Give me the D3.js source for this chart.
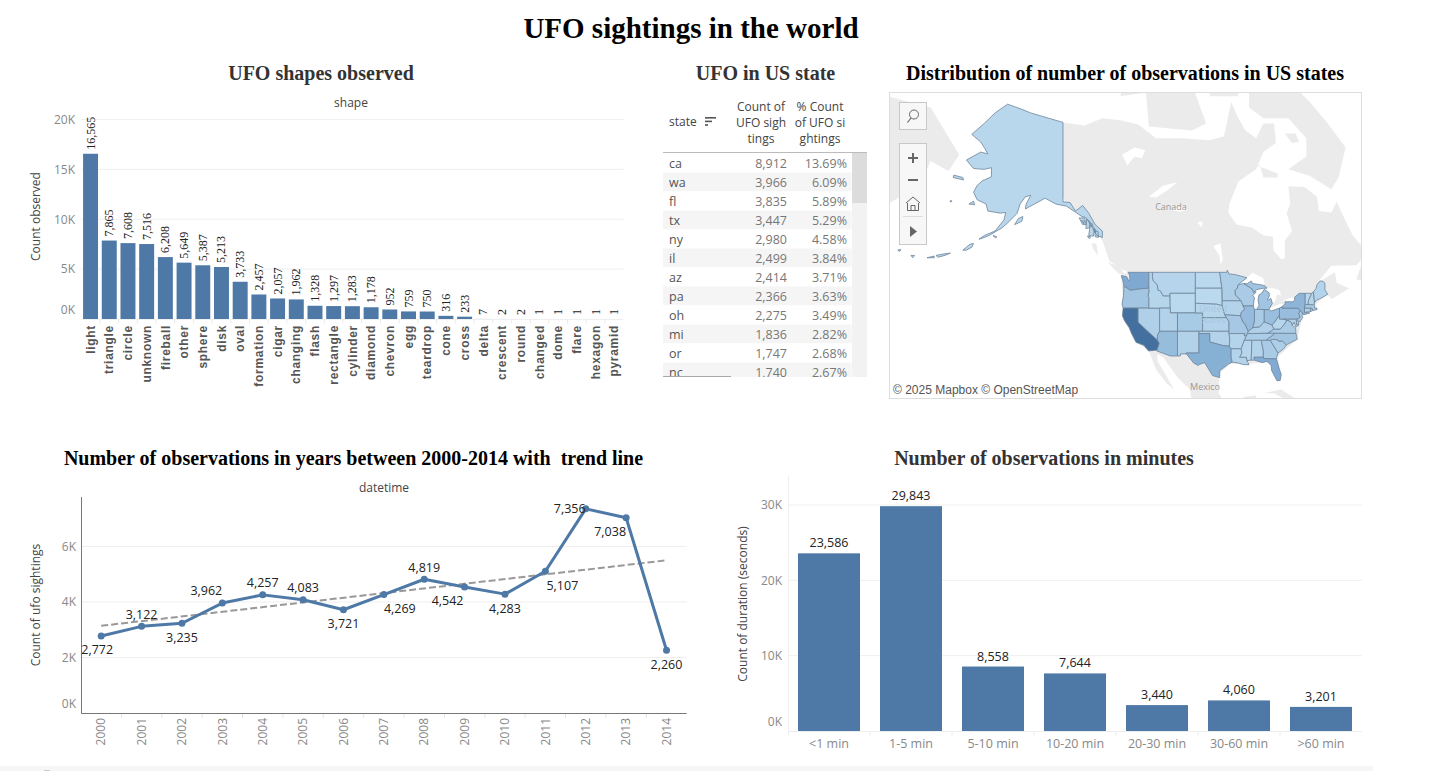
<!DOCTYPE html>
<html>
<head>
<meta charset="utf-8">
<title>UFO sightings in the world</title>
<script src="https://cdn.jsdelivr.net/npm/d3@7"></script>
<style>
  html, body { margin: 0; padding: 0; background: #fff; overflow: hidden; }
  svg { display: block; }
  text { font-family: "Open Sans", sans-serif; }
  .title { font-family: "Liberation Serif", serif; font-weight: bold; text-anchor: middle; white-space: pre; }
  .tick-label { font-size: 12px; fill: #888; }
  .axis-title { font-size: 12px; fill: #444; text-anchor: middle; }
  .mark-label { font-size: 12.5px; fill: #222; text-anchor: middle; }
  .domain { display: none; }
</style>
</head>
<body>
<svg id="board" width="1451" height="771"></svg>
<script>
// ---- data ----
var shapeNames = ['light','triangle','circle','unknown','fireball','other','sphere','disk','oval','formation','cigar','changing','flash','rectangle','cylinder','diamond','chevron','egg','teardrop','cone','cross','delta','crescent','round','changed','dome','flare','hexagon','pyramid'];
var shapeCounts = [16565,7865,7608,7516,6208,5649,5387,5213,3733,2457,2057,1962,1328,1297,1283,1178,952,759,750,316,233,7,2,2,1,1,1,1,1];
var shapeTicks = [0,5000,10000,15000,20000];

var years = [2000,2001,2002,2003,2004,2005,2006,2007,2008,2009,2010,2011,2012,2013,2014];
var yearCounts = [2772,3122,3235,3962,4257,4083,3721,4269,4819,4542,4283,5107,7356,7038,2260];
var yearTicks = [0,2000,4000,6000];
// where each label sits around its point, same order as years
var yearLabelDx = [-4,0,0,-16,0,0,0,16,0,-17,0,17,-16,-16,0];
var yearLabelDy = [14,-12,14,-12,-12,-12,14,14,-12,14,14,14,0,14,14];

var durationBins = ['<1 min','1-5 min','5-10 min','10-20 min','20-30 min','30-60 min','>60 min'];
var durationCounts = [23586,29843,8558,7644,3440,4060,3201];
var durationTicks = [0,10000,20000,30000];

var tableStates = ['ca','wa','fl','tx','ny','il','az','pa','oh','mi','or','nc'];
var tableCounts = [8912,3966,3835,3447,2980,2499,2414,2366,2275,1836,1747,1740];
var tablePercents = ['13.69%','6.09%','5.89%','5.29%','4.58%','3.84%','3.71%','3.63%','3.49%','2.82%','2.68%','2.67%'];

// states not in the visible rows of the table: estimated from their shade
var otherStates = ['mo','co','in','nj','va','ma','wi','ga','tn','mn','sc','ct','ky','nv','md','ut','nm','ok','ia','ks','al','ar','me','la','id','nh','mt','vt','wv','ne','ms','ak','ri','sd','wy','de','nd'];
var otherCounts = [1483,1385,1288,1255,1248,1238,1232,1235,1091,1015,1003,865,845,850,757,700,699,668,640,614,629,578,565,546,503,465,450,260,433,371,375,311,224,174,169,165,121];

// outlines as [lon, lat] rings
var stateShapes = {
  wa: [[[-124.7,48.4],[-123.2,48.2],[-122.6,47.4],[-122.3,47.6],[-122.4,48.5],[-122.8,49],[-117,49],[-117,46],[-119,45.9],[-121.2,45.7],[-122.3,45.6],[-123.4,46.2],[-124,46.3],[-124.1,47]]],
  or: [[[-124,46.3],[-123.4,46.2],[-122.3,45.6],[-121.2,45.7],[-119,45.9],[-117,46],[-116.9,45.6],[-117.2,44.4],[-117,44.2],[-117,42],[-124.2,42],[-124.5,42.8],[-124.1,44.5]]],
  ca: [[[-124.2,42],[-120,42],[-120,39],[-114.6,35],[-114.1,34.3],[-114.7,32.7],[-117.1,32.5],[-118.4,33.8],[-120.6,34.5],[-121.9,36.6],[-122.5,37.8],[-123.8,39.3],[-124.4,40.4]]],
  nv: [[[-120,42],[-114,42],[-114,37],[-114.6,36.1],[-114.6,35],[-120,39]]],
  id: [[[-117,49],[-116,49],[-116,48],[-115.7,47.4],[-114.7,46.7],[-114.4,45.6],[-113.8,45.5],[-113,44.5],[-111.1,44.5],[-111,42],[-117,42],[-117,44.2],[-117.2,44.4],[-116.9,45.6],[-117,46]]],
  mt: [[[-116,49],[-104,49],[-104,45],[-111.1,45],[-111.1,44.5],[-113,44.5],[-113.8,45.5],[-114.4,45.6],[-114.7,46.7],[-115.7,47.4],[-116,48]]],
  wy: [[[-111.1,45],[-104,45],[-104,41],[-111,41]]],
  ut: [[[-114,42],[-111,42],[-111,41],[-109,41],[-109,37],[-114,37]]],
  co: [[[-109,41],[-102,41],[-102,37],[-109,37]]],
  az: [[[-114.6,35],[-114.6,36.1],[-114,37],[-109,37],[-109,31.3],[-111,31.3],[-114.8,32.5],[-114.7,32.7],[-114.1,34.3]]],
  nm: [[[-109,37],[-103,37],[-103,32],[-106.6,32],[-106.5,31.8],[-108.2,31.8],[-108.2,31.3],[-109,31.3]]],
  nd: [[[-104,49],[-97.2,49],[-96.6,46],[-104,46]]],
  sd: [[[-104,46],[-96.6,46],[-96.5,42.5],[-98,42.8],[-104,43]]],
  ne: [[[-104,43],[-98,42.8],[-96.5,42.5],[-95.8,40.6],[-95.3,40],[-102,40],[-102,41],[-104,41]]],
  ks: [[[-102,40],[-95.3,40],[-94.6,39.1],[-94.6,37],[-102,37]]],
  ok: [[[-103,37],[-94.6,37],[-94.6,36.5],[-94.4,35.4],[-94.5,33.6],[-96.5,33.8],[-100,34.6],[-100,36.5],[-103,36.5]]],
  tx: [[[-106.6,32],[-103,32],[-103,36.5],[-100,36.5],[-100,34.6],[-96.5,33.8],[-94.5,33.6],[-94,33],[-94,31],[-93.7,29.8],[-94.7,29.4],[-97.2,27.7],[-97.2,26],[-99.2,26.5],[-101.4,29.7],[-102.8,29.3],[-103.2,29],[-104.5,29.6],[-106.5,31.8]]],
  mn: [[[-97.2,49],[-95.2,49],[-95.1,49.4],[-94.6,48.7],[-93,48.6],[-89.6,48],[-92,46.7],[-92.3,46],[-92.9,45.5],[-92.8,44.7],[-91.2,43.5],[-96.5,43.5],[-96.5,45.3],[-96.6,46]]],
  ia: [[[-96.5,43.5],[-91.2,43.5],[-90.7,42.5],[-90.2,41.8],[-91.1,41.2],[-91.4,40.4],[-95.8,40.6],[-96.5,42.5]]],
  mo: [[[-95.8,40.6],[-91.4,40.4],[-90.7,39],[-90.2,38.7],[-89.2,37],[-89.5,36.5],[-89.7,36],[-90.4,36],[-90.2,36.5],[-94.6,36.5],[-94.6,37],[-94.6,39.1],[-95.3,40]]],
  ar: [[[-94.6,36.5],[-90.2,36.5],[-90.4,36],[-89.7,36],[-90.3,35],[-91.2,33],[-94,33],[-94.5,33.6],[-94.4,35.4]]],
  la: [[[-94,33],[-91.2,33],[-91,32],[-91.6,31],[-89.7,31],[-89.6,30.2],[-89,29.2],[-90.5,29.2],[-92,29.6],[-93.7,29.8],[-94,31]]],
  ms: [[[-90.3,35],[-88.2,35],[-88.4,30.3],[-89.6,30.2],[-89.7,31],[-91.6,31],[-91,32],[-91.2,33]]],
  al: [[[-88.2,35],[-85.6,35],[-85,32.5],[-85,31],[-87.6,31],[-87.5,30.3],[-88.4,30.3]]],
  ga: [[[-85.6,35],[-83.1,35],[-80.9,32],[-81.4,30.7],[-82.2,30.6],[-84.9,30.7],[-85,31],[-85,32.5]]],
  fl: [[[-87.6,31],[-85,31],[-84.9,30.7],[-82.2,30.6],[-81.4,30.7],[-80.5,28],[-80,26.8],[-80.3,25.3],[-81.2,25.2],[-82.7,27.8],[-82.8,29],[-84,30],[-85.3,29.7],[-87.5,30.3]]],
  sc: [[[-83.1,35],[-82.4,35.2],[-81,35.1],[-80.8,34.8],[-79.7,34.8],[-78.6,33.9],[-79.3,33],[-80.9,32]]],
  nc: [[[-84.3,35],[-83.1,35],[-82.4,35.2],[-81,35.1],[-80.8,34.8],[-79.7,34.8],[-78.6,33.9],[-77,34.6],[-75.5,35.2],[-75.9,36.55],[-81.7,36.6],[-82.6,36]]],
  tn: [[[-90.3,35],[-88.2,35],[-85.6,35],[-84.3,35],[-82.6,36],[-81.7,36.6],[-83.7,36.6],[-88.1,36.5],[-89.5,36.5],[-89.7,36]]],
  ky: [[[-89.5,36.5],[-88.1,36.5],[-83.7,36.6],[-82,37.5],[-82.6,38.4],[-84.8,39.1],[-86,38],[-88,37.8],[-89.2,37]]],
  va: [[[-83.7,36.6],[-75.9,36.55],[-76,37.8],[-76.9,38.3],[-77.1,38.9],[-77.8,39.3],[-78.4,39.55],[-79.3,38.4],[-80.3,37.5],[-82,37.5]]],
  wv: [[[-82,37.5],[-80.3,37.5],[-79.3,38.4],[-78.4,39.55],[-77.8,39.3],[-79.5,39.7],[-80.5,39.7],[-80.5,40.6],[-81.7,39.2],[-82.6,38.4]]],
  md: [[[-79.5,39.7],[-75.8,39.7],[-75.7,38.5],[-75.1,38.4],[-75.9,37.95],[-76.4,39],[-76.9,38.3],[-77.1,38.9],[-77.8,39.3]]],
  de: [[[-75.8,39.7],[-75.4,39.8],[-75.1,38.5],[-75.7,38.5]]],
  pa: [[[-80.5,42],[-79.8,42.3],[-79.8,42],[-75.3,42],[-74.7,41.4],[-75.1,40.9],[-74.7,40.1],[-75.4,39.8],[-75.8,39.7],[-80.5,39.7]]],
  nj: [[[-75.1,40.9],[-74.7,41.4],[-74,41],[-74.2,40.5],[-74,40],[-74.9,39],[-75.5,39.5],[-74.7,40.1]]],
  ny: [[[-79.8,42.3],[-78.9,42.9],[-79,43.3],[-76.8,43.3],[-76.2,43.6],[-76.3,44.2],[-75,45],[-73.3,45],[-73.3,43.6],[-73.3,42.75],[-73.5,42.05],[-73.5,41.1],[-72,41],[-73.8,40.6],[-74,41],[-74.7,41.4],[-75.3,42],[-79.8,42]]],
  ct: [[[-73.5,42.05],[-71.8,42],[-71.8,41.3],[-73.5,41.1]]],
  ri: [[[-71.8,42],[-71.4,42],[-71.2,41.5],[-71.8,41.3]]],
  ma: [[[-73.3,42.75],[-71.3,42.7],[-70.8,42.9],[-70.7,42],[-70,42],[-70,41.7],[-71.2,41.5],[-71.4,42],[-71.8,42],[-73.5,42.05]]],
  vt: [[[-73.3,45],[-71.5,45],[-72.4,43.5],[-72.5,42.75],[-73.3,42.75],[-73.3,43.6]]],
  nh: [[[-71.5,45],[-71,45.3],[-70.7,43.1],[-70.8,42.9],[-71.3,42.7],[-72.5,42.75],[-72.4,43.5]]],
  me: [[[-71,45.3],[-70.3,45.9],[-70,46.7],[-69.2,47.4],[-68.3,47.3],[-67.8,47],[-67.8,45.7],[-67,44.8],[-69,44],[-70.2,43.6],[-70.7,43.1]]],
  oh: [[[-84.8,41.7],[-83.5,41.7],[-82.7,41.4],[-81.3,41.8],[-80.5,42],[-80.5,40.6],[-81.7,39.2],[-82.6,38.4],[-84.8,39.1]]],
  in: [[[-87.5,41.7],[-86.8,41.76],[-84.8,41.7],[-84.8,39.1],[-86,38],[-88,37.8],[-87.5,39.3]]],
  il: [[[-91.4,40.4],[-91.1,41.2],[-90.2,41.8],[-90.7,42.5],[-87.8,42.5],[-87.5,41.7],[-87.5,39.3],[-88,37.8],[-89.2,37],[-90.2,38.7],[-90.7,39]]],
  wi: [[[-92.9,45.5],[-92.3,46],[-92,46.7],[-90.5,46.9],[-88.2,45.9],[-87.7,45.2],[-87,45.3],[-88,44.5],[-87.5,44.2],[-87.8,42.5],[-90.7,42.5],[-91.2,43.5],[-92.8,44.7]]],
  mi: [[[-86.8,41.76],[-84.8,41.7],[-83.5,41.7],[-83.1,42.2],[-82.5,43],[-82.9,44],[-83.5,43.7],[-83.9,43.7],[-83.3,44.5],[-83.4,45.1],[-84.7,45.8],[-85.5,45],[-86.2,44.7],[-86.5,43.7],[-86.2,42.6]],
       [[-90.5,46.9],[-88.2,45.9],[-87.7,45.2],[-87,45.7],[-85,46],[-84,46],[-84.6,46.5],[-86,46.7],[-88,46.9],[-88.4,47.4],[-89.5,46.85]]],
  ak: [[[-141,69.6],[-141,60.3],[-139,60.2],[-137.5,59],[-135.5,59.8],[-133.8,58.7],[-132,57],[-130,56],[-130,55],[-131.5,55.3],[-133,56.7],[-134.5,58],[-136,58.3],[-138,59],[-140,59.7],[-143,60],[-146,60.8],[-149,60],[-151.5,59.3],[-151.3,60],[-150,61.2],[-151.5,61],[-153,60],[-153.8,58.7],[-156,57.5],[-158,56.5],[-162,55.2],[-164.5,54.7],[-163,55.3],[-160,56],[-157.5,57.7],[-157,58.8],[-158.5,58.7],[-162,59],[-162.5,60],[-165,60.6],[-166,61.6],[-165,62.5],[-163.5,63.1],[-161,63.6],[-161,64.7],[-163,64.5],[-166,64.6],[-168,65.6],[-164,66.5],[-162,66.3],[-163,67],[-164,67.6],[-166.5,68.4],[-163,69.5],[-160,70.5],[-156.5,71.3],[-153,70.9],[-150,70.5],[-145,70]],
       [[-154.5,57],[-152.5,57.5],[-152.2,58.2],[-153.5,57.9]],
       [[-171.7,63.5],[-168.8,63.2],[-169,63.5],[-171.5,63.8]],
       [[-167.3,60],[-165.7,59.9],[-166,60.4]],
       [[-136.5,58],[-135,58],[-134.5,57],[-135.5,57]],
       [[-134.4,57.8],[-133.5,57.5],[-133.6,56.5],[-134.6,56.4]],
       [[-133.4,56.9],[-132.2,56.5],[-132.5,55.2],[-133.8,55.3],[-133.6,56.2]],
       [[-132.1,56],[-131.2,55.9],[-131.1,55],[-132,55.1]],
       [[-133.3,57.3],[-132.6,57],[-132.9,56.7]],
       [[-132.5,56.3],[-131.8,56.2],[-132,55.7]],
       [[-135.8,57.6],[-135,57.5],[-135.2,57.1]],
       [[-134.2,55.2],[-133.3,55.1],[-133.6,54.8]],
       [[-169,52.9],[-168,53.4],[-167,53.9],[-166,54],[-166.5,53.4],[-168,52.9]],
       [[-176.5,52],[-174,52.3],[-172.5,52.4],[-174,52],[-176,51.7]],
       [[-179,51.6],[-177,51.9],[-177,51.6]],
       [[-172,60.4],[-172.6,60.3],[-172.4,60.5]],
       [[-187.2,52.9],[-186.3,53],[-186.6,52.7]],
       [[-183.5,52],[-182.5,52],[-183,51.6]],
       [[-160.6,55.3],[-159.5,55.1],[-159.8,54.9]]]
};

var landShapes = [
  // North America
  [[-141,69.6],[-135,69.3],[-130,70],[-125,69.8],[-120,69.4],[-115,68],[-108,68],[-100,67.8],[-96,68.2],[-94,71.5],[-92,70],[-90,68.8],[-87,68],[-85,69.5],[-82,69.5],[-81.5,67.5],[-85,66.5],[-87,64.5],[-92,63],[-94.5,60],[-94.8,58.8],[-92.5,57],[-88,56.5],[-85,55.3],[-82.3,55.1],[-82.2,52.9],[-80,51.3],[-79,51.5],[-79,54.5],[-77,56],[-78.5,58.7],[-77.5,60],[-78,62.4],[-73.5,62.3],[-70,61],[-69.5,59],[-66,58.8],[-64.5,60.3],[-62,57.5],[-60,55.3],[-56,52.5],[-59,50.3],[-66,50.2],[-70,47],[-65,49],[-64.5,47],[-61,46],[-66,43.8],[-67,44.8],[-70,43],[-70.5,41.7],[-74,40.5],[-75.5,35.2],[-81,31],[-80,26],[-81,25.2],[-82.8,29],[-84,30],[-90,29.2],[-94,29.5],[-97.3,27],[-97.5,22],[-95,18.5],[-91,18.6],[-90.5,21],[-87,21.5],[-88,16],[-92,15],[-105,20],[-105.5,23],[-109,26],[-113,31],[-114.7,31.7],[-114.5,30],[-112.5,27],[-110,23],[-112,24.5],[-115,28],[-117,32.5],[-120.5,34.5],[-124,40],[-124.7,48.4],[-123,49],[-128,51],[-130,54.5],[-133,56.5],[-136,58.5],[-140,59.8],[-141,61]],
  // Chukotka
  [[-190,72],[-178,71],[-170,66.2],[-173,64.3],[-178,65.5],[-181,62.5],[-190,60]],
  // Arctic islands and others
  [[-89,73.5],[-80,73.8],[-72,71.5],[-67,69.5],[-62,67],[-64,63.5],[-66,62],[-72,63.7],[-78,64.5],[-73,66],[-73,68],[-78,70],[-85,70],[-89,71]],
  [[-117,69.2],[-105,68.8],[-101,69.5],[-105,73],[-118,73]],
  [[-125,72],[-123,74],[-116,74],[-118,72.3]],
  [[-100,72],[-92,72],[-92,75],[-100,75]],
  [[-87,65],[-81,64],[-81,63.5],[-85,63.5],[-86,65]],
  [[-79,68.5],[-76,68.5],[-75,67.6],[-77,67.5]],
  [[-59,47.7],[-53,46.7],[-53,48.5],[-56,51.5],[-57.5,50.5]],
  [[-85,22],[-80,23],[-75,20],[-78,20],[-82,22]],
  [[-133,54],[-131.7,54],[-131.2,52],[-132.5,53]],
  [[-128.5,50.8],[-125,50],[-123.5,48.4],[-125.5,48.8]]
];

var waterShapes = [
  [[-124.5,66.2],[-121,67],[-118,66.7],[-119,65.8],[-121,66],[-123,65]],  // Great Bear
  [[-117,61],[-113,62.5],[-109,62.9],[-112,61.8],[-115,60.9]],            // Great Slave
  [[-111,59.2],[-108,59.6],[-106,59.2],[-108.5,58.9]],                    // Athabasca
  [[-103.5,57.3],[-102,57.5],[-102.2,56.6]],                              // Reindeer
  [[-99,53.6],[-97,54],[-96.3,51.2],[-97,50.4],[-97.3,52]],               // Winnipeg
  [[-92,46.7],[-89.6,48],[-88,48.9],[-85,47.9],[-84.6,46.5],[-86,46.7],[-88,46.9],[-88.4,47.4],[-89.5,46.85],[-90.5,46.9]], // Superior
  [[-87.8,42.5],[-87.5,41.7],[-86.8,41.76],[-86.2,42.6],[-86.5,43.7],[-86.2,44.7],[-85.5,45],[-85,46],[-87,45.7],[-87,45.3],[-88,44.5],[-87.5,44.2]], // Michigan
  [[-84.7,45.8],[-83.4,45.1],[-83.3,44.5],[-83.9,43.7],[-83.5,43.7],[-82.9,44],[-82.5,43],[-81.7,43.4],[-81.2,44.8],[-80,44.5],[-80.5,45.6],[-82.5,46.1],[-84,46]], // Huron
  [[-83.5,41.7],[-82.7,41.4],[-81.3,41.8],[-79.8,42.3],[-78.9,42.9],[-80.5,42.8],[-83,42.1]], // Erie
  [[-79.8,43.3],[-79,43.3],[-76.8,43.3],[-76.2,43.6],[-76.3,44.2],[-78,44]]  // Ontario
];

// ---- board ----
var svg = d3.select('#board');
var blue = '#4e79a7';

function addTitle(label, x, y, size, color) {
  svg.append('text').attr('class', 'title').attr('x', x).attr('y', y)
    .attr('font-size', size).attr('fill', color).text(label);
}
function addYTitle(label, x, y) {
  svg.append('text').attr('class', 'axis-title')
    .attr('transform', 'translate(' + x + ',' + y + ') rotate(-90)').text(label);
}
function kFormat(d) { return d / 1000 + 'K'; }

// y axis with grid lines; the 0K label sits above the baseline like in tableau
function addYAxis(y, ticks, axisX, labelX, gridEnd, zeroShift) {
  var g = svg.append('g').attr('transform', 'translate(' + labelX + ',0)')
    .call(d3.axisLeft(y).tickValues(ticks).tickFormat(kFormat).tickSize(0).tickPadding(0));
  g.selectAll('text').attr('class', 'tick-label')
    .attr('transform', function(d) { return d === 0 ? 'translate(0,' + zeroShift + ')' : null; });
  svg.append('g').selectAll('line').data(ticks.filter(function(d) { return d > 0; })).enter().append('line')
    .attr('x1', axisX).attr('x2', gridEnd)
    .attr('y1', function(d) { return y(d); }).attr('y2', function(d) { return y(d); })
    .attr('stroke', '#efefef');
}
// little separators between bands under the baseline
function addSeparators(x, names, yTop, color) {
  var step = x.step();
  var start = x.range()[0];
  svg.append('g').selectAll('line').data(names.slice(0, -1)).enter().append('line')
    .attr('x1', function(d, i) { return start + step * (i + 1); })
    .attr('x2', function(d, i) { return start + step * (i + 1); })
    .attr('y1', yTop).attr('y2', yTop + 4).attr('stroke', color);
}

addTitle('UFO sightings in the world', 691, 38, 29, '#000');
addTitle('UFO shapes observed', 321, 80, 20, '#333');
addTitle('UFO in US state', 765.5, 80, 20, '#333');
addTitle('Distribution of number of observations in US states', 1125, 80, 20, '#000');
addTitle('Number of observations in years between 2000-2014 with  trend line', 353.5, 465, 20, '#000');
addTitle('Number of observations in minutes', 1044, 465, 20, '#333');

// ---- shapes bar chart ----
var shapeX = d3.scaleBand().domain(shapeNames).range([81.2, 623.6]).paddingInner(0.2).paddingOuter(0.1);
var shapeY = d3.scaleLinear().domain([0, 20000]).range([319, 119.5]);
addYAxis(shapeY, shapeTicks, 81, 75, 623.5, -9);
addYTitle('Count observed', 40, 216.5);
svg.append('text').attr('class', 'axis-title').attr('x', 351).attr('y', 107).text('shape');

svg.append('line').attr('x1', 81).attr('x2', 623.5).attr('y1', 319.5).attr('y2', 319.5).attr('stroke', '#efefef');
addSeparators(shapeX, shapeNames, 319.5, '#eaeaea');

svg.append('g').selectAll('rect').data(shapeCounts).enter().append('rect')
  .attr('x', function(d, i) { return shapeX(shapeNames[i]); })
  .attr('y', function(d) { return shapeY(d); })
  .attr('width', shapeX.bandwidth())
  .attr('height', function(d) { return shapeY(0) - shapeY(d); })
  .attr('fill', blue);

svg.append('g').selectAll('text').data(shapeCounts).enter().append('text')
  .attr('transform', function(d, i) {
    return 'translate(' + (shapeX(shapeNames[i]) + shapeX.bandwidth() / 2 + 4) + ',' + (shapeY(d) - 4) + ') rotate(-90)';
  })
  .attr('font-size', 12).attr('fill', '#222')
  .style('font-family', '"Liberation Serif", serif')
  .text(function(d) { return d3.format(',')(d); });

var shapeAxis = svg.append('g').attr('transform', 'translate(0,325)')
  .call(d3.axisBottom(shapeX).tickSize(0).tickPadding(0));
shapeAxis.selectAll('text')
  .attr('transform', 'rotate(-90)').attr('x', 0).attr('y', 0).attr('dy', '0.35em')
  .attr('text-anchor', 'end').attr('fill', '#555')
  .style('font-family', '"Liberation Sans", sans-serif')
  .style('font-size', '12px').style('font-weight', 'bold').style('letter-spacing', '0.7px');

// ---- state table ----
var rowY = d3.scaleBand().domain(tableStates).range([153.5, 381.5]);
var table = svg.append('g');
svg.append('clipPath').attr('id', 'table-clip').append('rect')
  .attr('x', 663).attr('y', 152).attr('width', 205).attr('height', 225);
var rows = table.append('g').attr('clip-path', 'url(#table-clip)');

rows.selectAll('rect').data(tableStates).enter().append('rect')
  .attr('x', 663).attr('width', 188.5)
  .attr('y', function(d) { return rowY(d); })
  .attr('height', rowY.bandwidth())
  .attr('fill', function(d, i) { return i % 2 ? '#f5f5f5' : '#fff'; });

function addColumn(values, x, anchor, color) {
  rows.append('g').selectAll('text').data(values).enter().append('text')
    .attr('x', x)
    .attr('y', function(d, i) { return rowY(tableStates[i]) + rowY.bandwidth() / 2; })
    .attr('dy', '0.36em')
    .attr('text-anchor', anchor).attr('font-size', 12.5).attr('fill', color)
    .text(function(d) { return d; });
}
addColumn(tableStates, 669, 'start', '#555');
addColumn(tableCounts.map(d3.format(',')), 787, 'end', '#777');
addColumn(tablePercents, 847, 'end', '#777');

table.append('text').attr('x', 669).attr('y', 126).attr('font-size', 12).attr('fill', '#444').text('state');
[11, 7, 3].forEach(function(len, i) {
  table.append('rect').attr('x', 705).attr('y', 117 + i * 3.6).attr('width', len).attr('height', 1.6).attr('fill', '#555');
});
[['Count of', 'UFO sigh', 'tings'], ['% Count', 'of UFO si', 'ghtings']].forEach(function(lines, c) {
  lines.forEach(function(l, i) {
    table.append('text').attr('x', c ? 820 : 761).attr('y', 111 + i * 16)
      .attr('text-anchor', 'middle').attr('font-size', 12).attr('fill', '#444').text(l);
  });
});
table.append('line').attr('x1', 663).attr('x2', 867).attr('y1', 152.5).attr('y2', 152.5).attr('stroke', '#bbb');
table.append('rect').attr('x', 852).attr('y', 153).attr('width', 15).attr('height', 224).attr('fill', '#f2f2f2');
table.append('rect').attr('x', 852).attr('y', 153).attr('width', 15).attr('height', 50).attr('fill', '#dcdcdc');
table.append('line').attr('x1', 663).attr('x2', 731).attr('y1', 376.5).attr('y2', 376.5).attr('stroke', '#aaa');

// ---- map ----
var mapBox = { x: 889.5, y: 92.5, w: 472, h: 306 };
var projection = d3.geoMercator().rotate([100, 0]).scale(205).translate([1209.7, 474]).precision(0)
  .clipExtent([[mapBox.x, mapBox.y], [mapBox.x + mapBox.w, mapBox.y + mapBox.h]]);
var geoPath = d3.geoPath(projection);

// spherical polygons need clockwise rings: flip the ones that came out inside-out
function polygon(rings) {
  var coordinates = rings.map(function(ring) {
    var closed = ring.concat([ring[0]]);
    var probe = { type: 'Polygon', coordinates: [closed] };
    return d3.geoArea(probe) > 2 * Math.PI ? closed.slice().reverse() : closed;
  });
  return { type: 'MultiPolygon', coordinates: coordinates.map(function(c) { return [c]; }) };
}

var stateValues = new Map();
tableStates.forEach(function(s, i) { stateValues.set(s, tableCounts[i]); });
otherStates.forEach(function(s, i) { stateValues.set(s, otherCounts[i]); });
var stateColor = d3.scaleLinear().domain([0, 3966, 8912]).range(['#bddbef', '#7fa9d1', '#43709f']);

var map = svg.append('g');
map.append('rect').attr('x', mapBox.x).attr('y', mapBox.y).attr('width', mapBox.w).attr('height', mapBox.h).attr('fill', '#fff');
map.append('g').selectAll('path').data(landShapes).enter().append('path')
  .attr('d', function(d) { return geoPath(polygon([d])); }).attr('fill', '#ebebeb');
map.append('g').selectAll('path').data(waterShapes).enter().append('path')
  .attr('d', function(d) { return geoPath(polygon([d])); }).attr('fill', '#fff');
map.append('text').attr('x', 1171).attr('y', 210).attr('text-anchor', 'middle').attr('font-size', 9).attr('fill', '#999').text('Canada');
map.append('text').attr('x', 1205).attr('y', 390).attr('text-anchor', 'middle').attr('font-size', 9).attr('fill', '#999').text('Mexico');

map.append('g').selectAll('path').data(Object.keys(stateShapes)).enter().append('path')
  .attr('d', function(d) { return geoPath(polygon(stateShapes[d])); })
  .attr('fill', function(d) { return stateColor(stateValues.get(d)); })
  .attr('stroke', '#6f8499').attr('stroke-width', 0.8).attr('stroke-linejoin', 'round');
map.append('text').attr('x', 1213).attr('y', 312).attr('text-anchor', 'middle').attr('font-size', 9).attr('fill', '#a9c6dd').text('United');
map.append('text').attr('x', 1213).attr('y', 323).attr('text-anchor', 'middle').attr('font-size', 9).attr('fill', '#a9c6dd').text('States');
map.append('rect').attr('x', mapBox.x).attr('y', mapBox.y).attr('width', mapBox.w).attr('height', mapBox.h)
  .attr('fill', 'none').attr('stroke', '#ddd');
map.append('text').attr('x', 893).attr('y', 394).attr('font-size', 12).attr('fill', '#555')
  .style('font-family', '"Liberation Sans", sans-serif').text('© 2025 Mapbox  © OpenStreetMap');

// map controls
var controls = svg.append('g').attr('fill', 'none');
controls.append('rect').attr('x', 899.5).attr('y', 102.5).attr('width', 27).attr('height', 27)
  .attr('fill', '#f7f7f7').attr('stroke', '#c8c8c8');
controls.append('rect').attr('x', 899.5).attr('y', 143.5).attr('width', 27).attr('height', 101)
  .attr('fill', '#f7f7f7').attr('stroke', '#c8c8c8');
controls.append('circle').attr('cx', 914).attr('cy', 114.5).attr('r', 4.5).attr('stroke', '#666');
controls.append('line').attr('x1', 911).attr('y1', 118).attr('x2', 907.5).attr('y2', 122.5).attr('stroke', '#666').attr('stroke-width', 1.2);
controls.append('path').attr('d', 'M908 158h10M913 153v10M908 180h10').attr('stroke', '#666').attr('stroke-width', 2);
controls.append('path').attr('d', 'M906 203l7 -6l7 6M907.5 203v7.5h11v-7.5M911 210.5v-5h4v5').attr('stroke', '#666');
controls.append('line').attr('x1', 903).attr('x2', 923).attr('y1', 216.5).attr('y2', 216.5).attr('stroke', '#ddd');
controls.append('path').attr('d', 'M910 226l7 5.5l-7 5.5z').attr('fill', '#666');

// ---- years line chart ----
var yearX = d3.scaleBand().domain(years).range([81, 686.7]);
var yearY = d3.scaleLinear().domain([0, 6000]).range([713, 546.5]);
function yearPos(i) { return yearX(years[i]) + yearX.bandwidth() / 2; }
addYAxis(yearY, yearTicks, 81, 76, 686.7, -9);
addYTitle('Count of ufo sightings', 40, 605);
svg.append('text').attr('class', 'axis-title').attr('x', 384).attr('y', 492).text('datetime');

svg.append('path').attr('d', 'M81.5 497V713.5H686.7').attr('fill', 'none').attr('stroke', '#777');
addSeparators(yearX, years, 714, '#e5e5e5');

var yearAxis = svg.append('g').attr('transform', 'translate(0,718)')
  .call(d3.axisBottom(yearX).tickSize(0).tickPadding(0));
yearAxis.selectAll('text').attr('class', 'tick-label')
  .attr('transform', 'rotate(-90)').attr('x', 0).attr('y', 0).attr('dy', '0.35em').attr('text-anchor', 'end');

// least squares trend of the yearly counts
var trendFit = (function() {
  var mx = d3.mean(yearCounts, function(d, i) { return i; });
  var my = d3.mean(yearCounts);
  var slope = d3.sum(yearCounts, function(d, i) { return (i - mx) * (d - my); }) /
              d3.sum(yearCounts, function(d, i) { return (i - mx) * (i - mx); });
  return function(i) { return my + slope * (i - mx); };
})();
var lastYear = years.length - 1;
svg.append('line')
  .attr('x1', yearPos(0)).attr('y1', yearY(trendFit(0)))
  .attr('x2', yearPos(lastYear)).attr('y2', yearY(trendFit(lastYear)))
  .attr('stroke', '#9b9898').attr('stroke-width', 2).attr('stroke-dasharray', '7,3');

var yearLine = d3.line().x(function(d, i) { return yearPos(i); }).y(function(d) { return yearY(d); });
svg.append('path').datum(yearCounts).attr('d', yearLine)
  .attr('fill', 'none').attr('stroke', blue).attr('stroke-width', 3).attr('stroke-linejoin', 'round');
svg.append('g').selectAll('circle').data(yearCounts).enter().append('circle')
  .attr('cx', function(d, i) { return yearPos(i); })
  .attr('cy', function(d) { return yearY(d); })
  .attr('r', 3.5).attr('fill', blue);
svg.append('g').selectAll('text').data(yearCounts).enter().append('text')
  .attr('class', 'mark-label')
  .attr('x', function(d, i) { return yearPos(i) + yearLabelDx[i]; })
  .attr('y', function(d, i) { return yearY(d) + yearLabelDy[i]; })
  .attr('dy', '0.35em')
  .text(function(d) { return d3.format(',')(d); });

// ---- duration bar chart ----
var durX = d3.scaleBand().domain(durationBins).range([788, 1362]).paddingInner(0.244).paddingOuter(0.122);
var durY = d3.scaleLinear().domain([0, 30000]).range([731, 505]);
addYAxis(durY, durationTicks, 788, 782, 1362, -9);
addYTitle('Count of duration (seconds)', 747, 604);
svg.append('line').attr('x1', 788.5).attr('x2', 788.5).attr('y1', 476).attr('y2', 735).attr('stroke', '#efefef');
svg.append('line').attr('x1', 788).attr('x2', 1362).attr('y1', 731.5).attr('y2', 731.5).attr('stroke', '#efefef');
addSeparators(durX, durationBins, 731.5, '#eaeaea');

svg.append('g').selectAll('rect').data(durationCounts).enter().append('rect')
  .attr('x', function(d, i) { return durX(durationBins[i]); })
  .attr('y', function(d) { return durY(d); })
  .attr('width', durX.bandwidth())
  .attr('height', function(d) { return durY(0) - durY(d); })
  .attr('fill', blue);
svg.append('g').selectAll('text').data(durationCounts).enter().append('text')
  .attr('class', 'mark-label')
  .attr('x', function(d, i) { return durX(durationBins[i]) + durX.bandwidth() / 2; })
  .attr('y', function(d) { return durY(d) - 6; })
  .text(function(d) { return d3.format(',')(d); });

var durAxis = svg.append('g').attr('transform', 'translate(0,739)')
  .call(d3.axisBottom(durX).tickSize(0).tickPadding(0));
durAxis.selectAll('text').attr('class', 'tick-label').style('font-size', '12.5px');

// strip along the bottom of the dashboard
svg.append('rect').attr('x', 0).attr('y', 766).attr('width', 1373).attr('height', 5).attr('fill', '#f6f6f6');
svg.append('line').attr('x1', 44).attr('x2', 50).attr('y1', 770.5).attr('y2', 770.5).attr('stroke', '#ccc');
</script>
</body>
</html>
